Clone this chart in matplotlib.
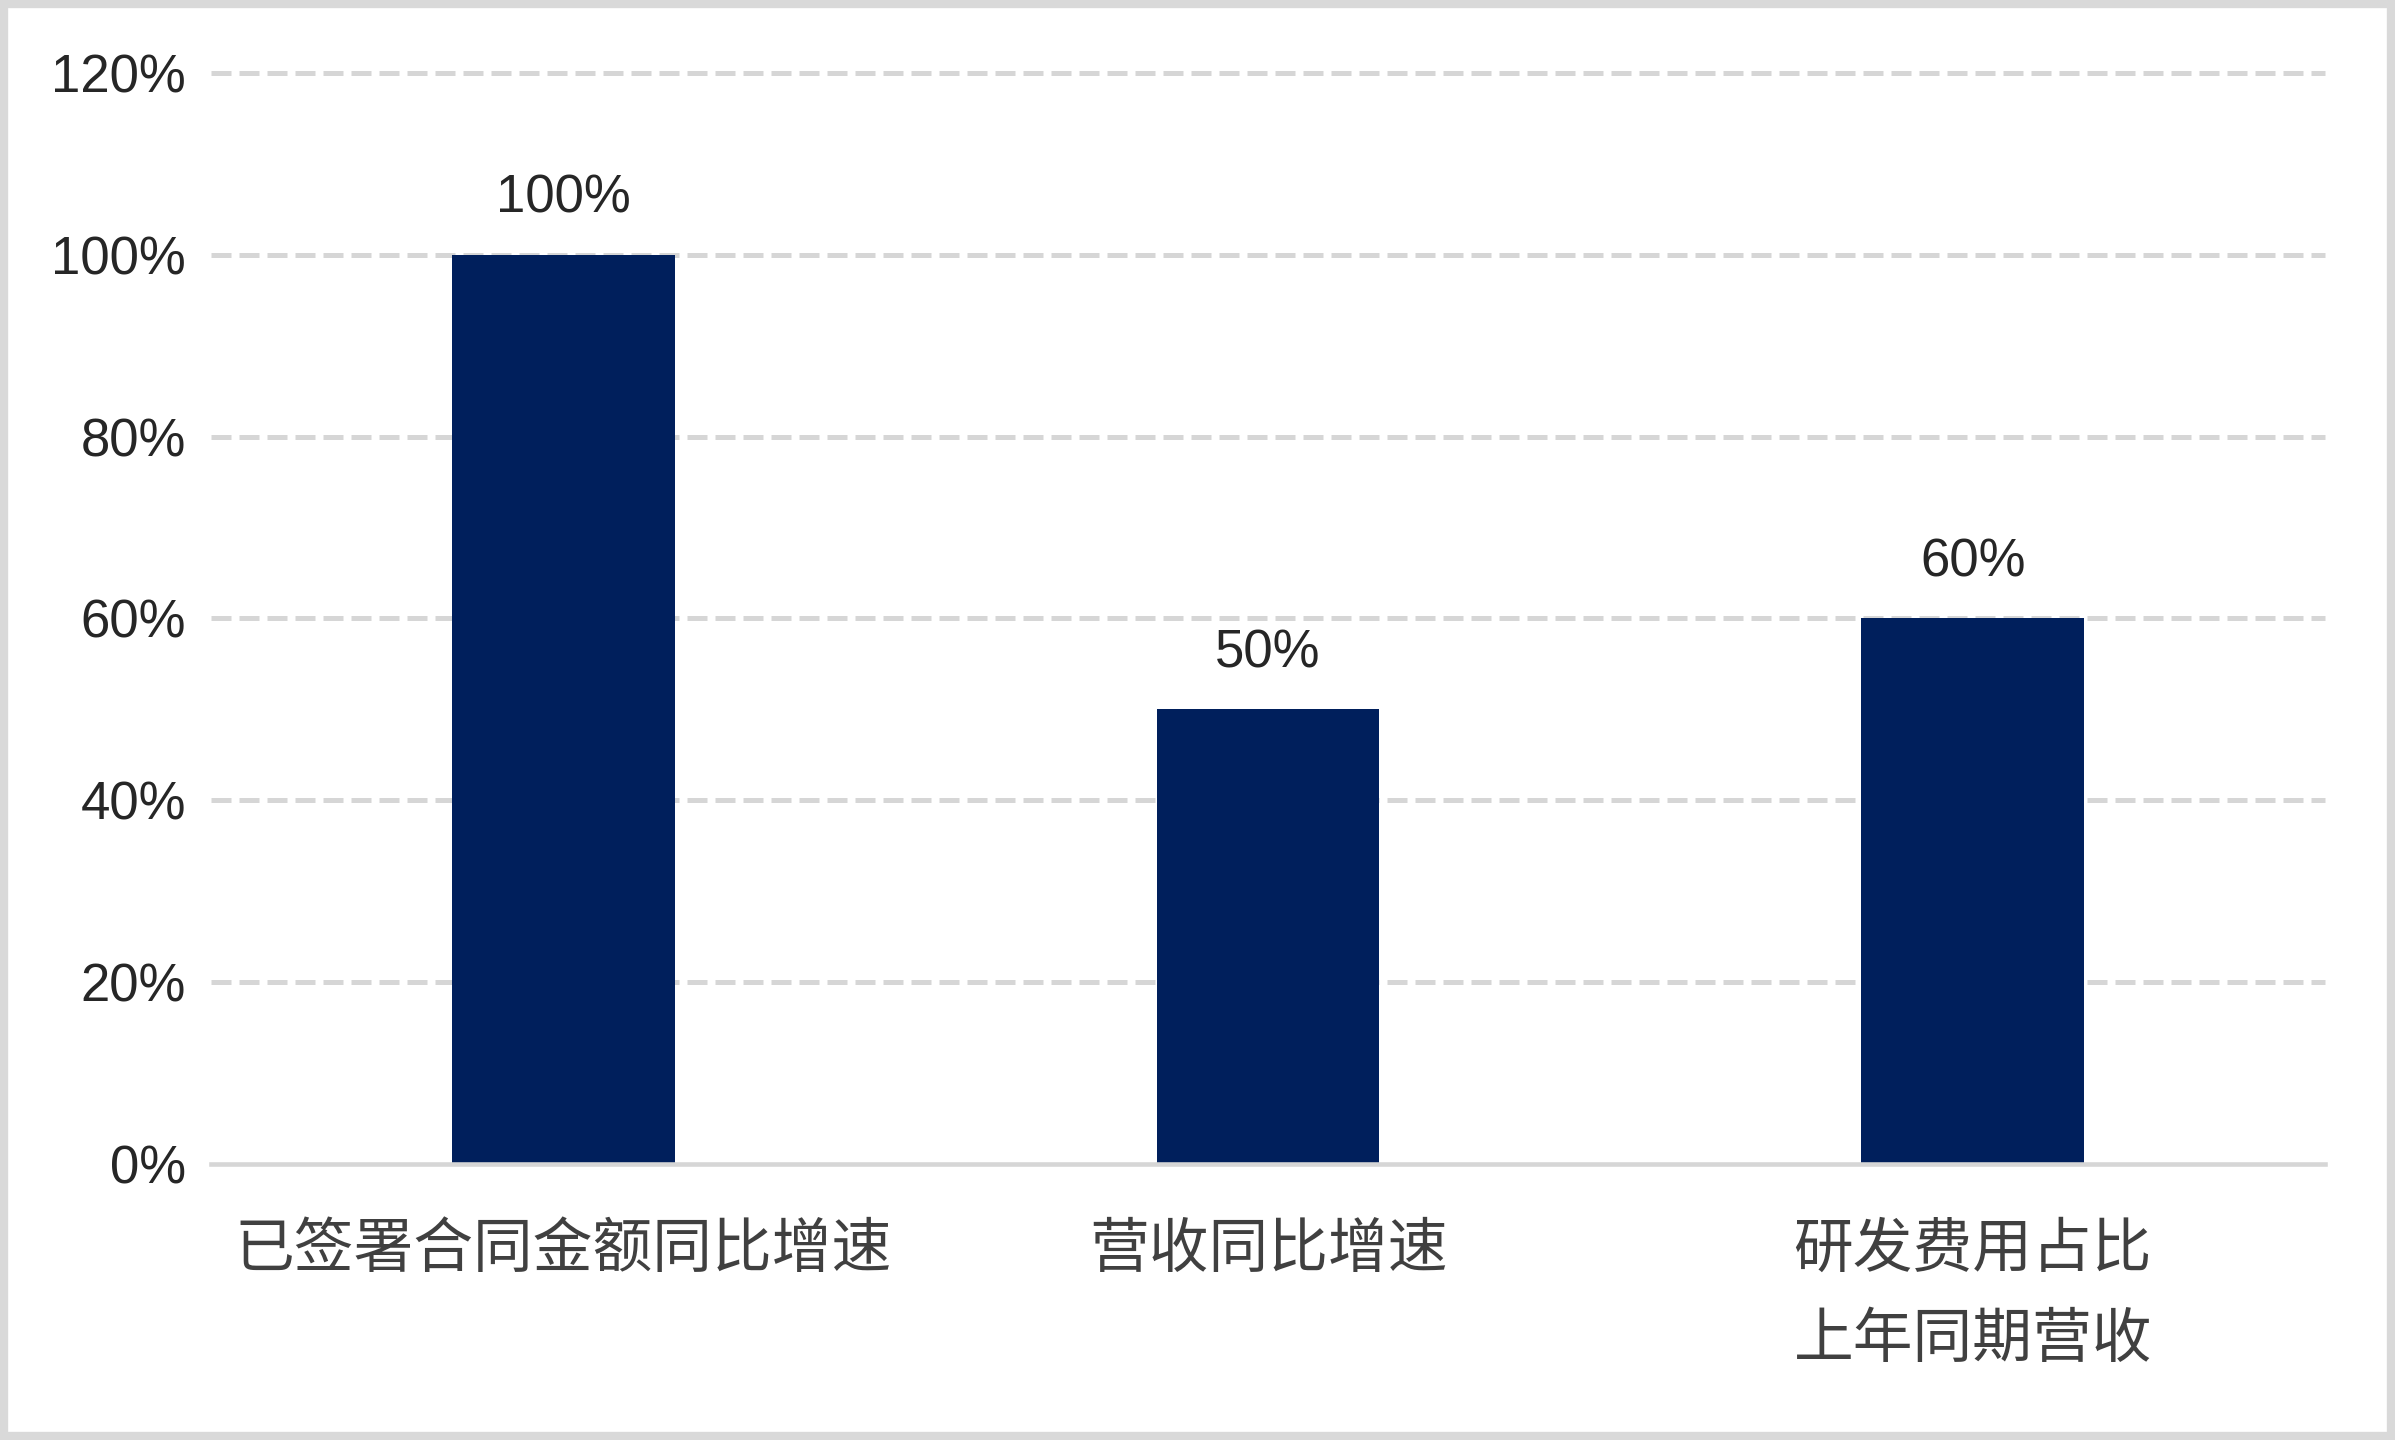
import matplotlib
matplotlib.use('Agg')
import matplotlib.pyplot as plt
from matplotlib.patches import Rectangle
from matplotlib.ticker import FuncFormatter

plt.rcParams['font.family'] = ['Liberation Sans', 'Noto Sans CJK SC', 'DejaVu Sans']
plt.rcParams['axes.unicode_minus'] = False

# 数据
categories = ['已签署合同金额同比增速', '营收同比增速', '研发费用占比\n上年同期营收']
values = [100, 50, 60]
value_labels = ['100%', '50%', '60%']
yticks = [0, 20, 40, 60, 80, 100, 120]

bar_color = '#001f5c'
grid_color = '#d6d6d6'

fig = plt.figure(figsize=(23.95, 14.4), dpi=100)
ax = fig.add_axes([0.0881, 0.1917, 0.8827, 0.7639])

x = list(range(len(categories)))
ax.bar(x, values, width=0.316, color=bar_color, zorder=3)

# 柱子上方的数值
for xi, v, lab in zip(x, values, value_labels):
    ax.annotate(lab, (xi, v), xytext=(0, 40.5), textcoords='offset points',
                ha='center', va='center', fontsize=38, color='#262626')

ax.set_xlim(-0.5, 2.5)
ax.set_ylim(0, 121)
ax.set_yticks(yticks)
ax.yaxis.set_major_formatter(FuncFormatter(lambda v, p: '%d%%' % v))
ax.set_xticks(x)
ax.set_xticklabels(categories, fontsize=43, color='#404040', linespacing=1.8)

# 虚线网格
for t in yticks[1:]:
    ax.axhline(t, color=grid_color, lw=3.6, linestyle=(0, (4, 1.6)), zorder=1, clip_on=False)

for s in ['top', 'right', 'left']:
    ax.spines[s].set_visible(False)
ax.spines['bottom'].set_color(grid_color)
ax.spines['bottom'].set_linewidth(3.3)
ax.spines['bottom'].set_zorder(4)

ax.tick_params(axis='y', length=0, pad=18, labelsize=38, labelcolor='#262626')
ax.tick_params(axis='x', length=0, pad=43)

# 外框
fig.patches.append(Rectangle((0.0015, 0.0025), 0.997, 0.995, transform=fig.transFigure,
                             fill=False, edgecolor='#d9d9d9', linewidth=6))

plt.savefig('out.png', dpi=100)
